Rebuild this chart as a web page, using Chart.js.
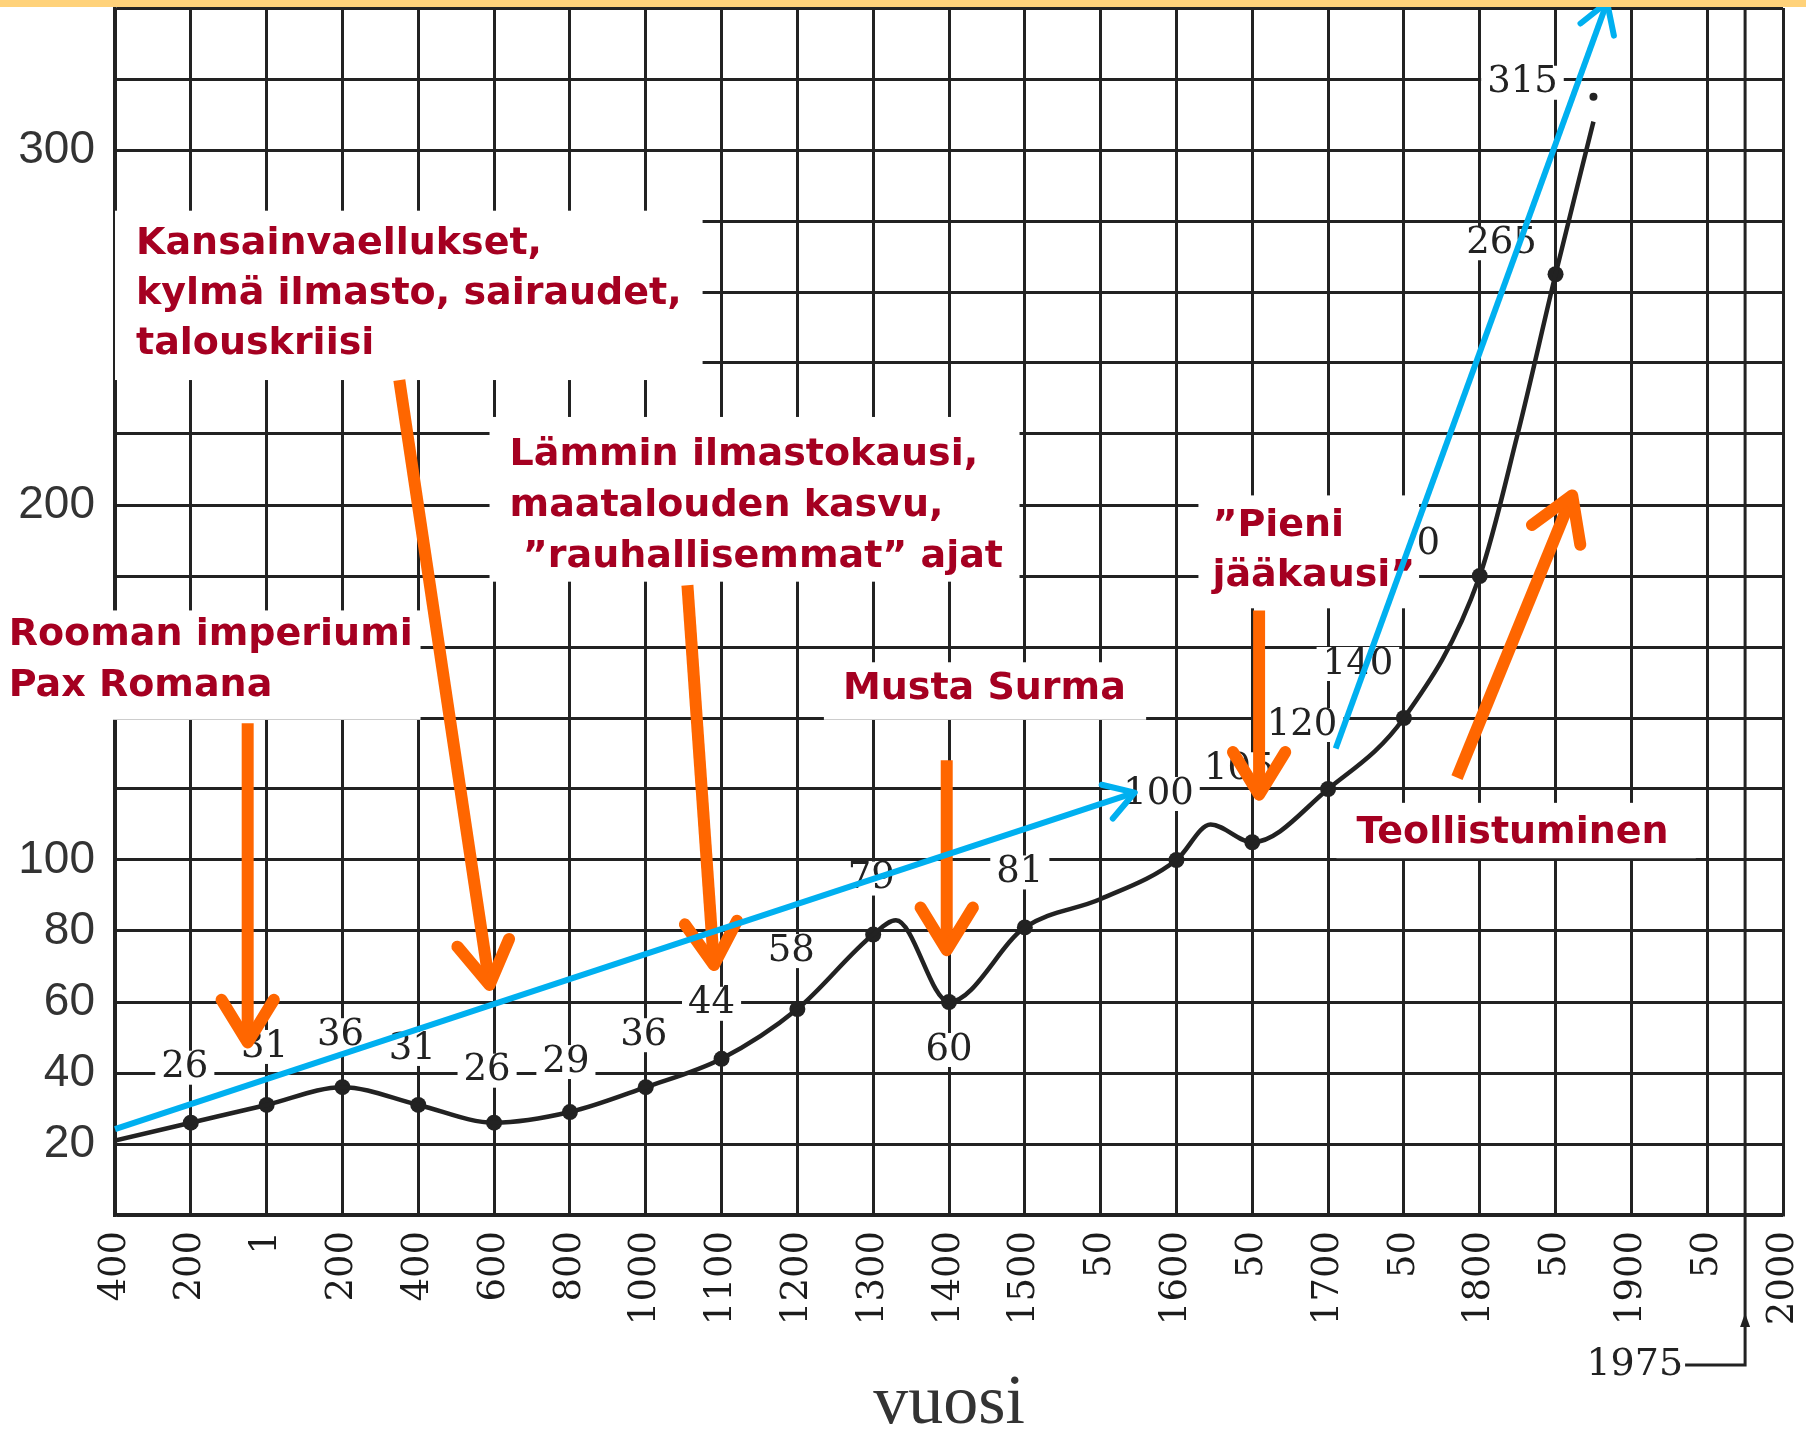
<!DOCTYPE html>
<html>
<head>
<meta charset="utf-8" />
<title>Euroopan väestö</title>
<script src="https://cdn.jsdelivr.net/npm/chart.js"></script>
<style>
  html, body { margin: 0; padding: 0; background: #fff; }
  #wrap { width: 1806px; height: 1432px; }
</style>
</head>
<body>
<div id="wrap"><canvas id="chart" width="1806" height="1432"></canvas></div>
<script>
// x-akseli on tasavälinen: jokainen askel on oma vuosiluku
const tickLabels = ['400','200','1','200','400','600','800','1000','1100','1200','1300','1400','1500','50','1600','50','1700','50','1800','50','1900','50','2000'];
const yLabels = [20, 40, 60, 80, 100, 200, 300];

// käyrän muoto (x = askel asteikolla, y = milj.)
const curveX = [0, 1, 2, 3, 4, 5, 6, 7, 8, 9, 10, 10.3, 11, 12, 13, 14, 14.45, 15, 16, 17, 18, 18.5, 19, 19.5];
const curveY = [21, 26, 31, 36, 31, 26, 29, 36, 44, 58, 79, 83, 60, 81, 89, 100, 110, 105, 120, 140, 180, 220, 265, 308];

// merkityt pisteet ja luvut
const dotX = [1, 2, 3, 4, 5, 6, 7, 8, 9, 10, 11, 12, 14, 15, 16, 17, 18, 19, 19.5];
const dotY = [26, 31, 36, 31, 26, 29, 36, 44, 58, 79, 60, 81, 100, 105, 120, 140, 180, 265, 315];

// lukujen paikka pisteeseen nähden (px)
const labelShift = [[-6,-55],[-2,-58],[-2,-52],[-6,-56],[-7,-52],[-4,-50],[-2,-52],[-10,-55],[-6,-58],[-2,-56],
                    [0,48],[-5,-55],[-18,-66],[-13,-73],[-26,-64],[-46,-54],[-75,-32],[-54,-31],[-71,-14]];

const DARKRED = '#a50021';
const ORANGE = '#ff6600';
const BLUE = '#00b0f0';
const INK = '#222222';

const notes = [
  { lines: ['Kansainvaellukset,', 'kylmä ilmasto, sairaudet,', 'talouskriisi'], box: [0, 282.9, 7.75, 235.2], inset: 21, first: 33, step: 50 },
  { lines: ['Lämmin ilmastokausi,', 'maatalouden kasvu,', ' ”rauhallisemmat” ajat'], box: [4.94, 224.8, 11.93, 178.4], inset: 20, first: 38, step: 51 },
  { lines: ['Rooman imperiumi', 'Pax Romana'], box: [-1.52, 170.3, 4.03, 139.5], inset: 9, first: 25, step: 51 },
  { lines: ['Musta Surma'], box: [9.35, 155.7, 13.6, 139.5], inset: 19, first: 27, step: 50 },
  { lines: ['”Pieni', 'jääkausi”'], box: [14.29, 202.7, 17.2, 170.9], inset: 14, first: 31, step: 50 },
  { lines: ['Teollistuminen'], box: [16.11, 116.1, 20.85, 100.5], inset: 20, first: 30, step: 50 }
];

// nuolet [x0, y0, x1, y1] akselien yksiköissä
const orangeArrows = [
  [1.75, 138.5, 1.75, 48.6],
  [3.75, 235.2, 4.94, 64.8],
  [7.55, 177.4, 7.90, 70.4],
  [10.97, 128.1, 10.97, 74.6],
  [15.09, 170.3, 15.09, 118.4],
  [17.7, 123.2, 19.22, 202.7]
];
const blueArrows = [
  [0, 24.2, 13.45, 119.0],
  [16.1, 131.4, 19.68, 341.6]
];

function arrow(ctx, x0, y0, x1, y1, color, width, head) {
  const a = Math.atan2(y1 - y0, x1 - x0);
  ctx.save();
  ctx.strokeStyle = color;
  ctx.lineWidth = width;
  ctx.lineCap = 'butt';
  ctx.beginPath();
  ctx.moveTo(x0, y0);
  ctx.lineTo(x1 - Math.cos(a) * width * 0.4, y1 - Math.sin(a) * width * 0.4);
  ctx.stroke();
  ctx.lineCap = 'round';
  ctx.lineJoin = 'round';
  ctx.beginPath();
  ctx.moveTo(x1 - head * Math.cos(a - 0.55), y1 - head * Math.sin(a - 0.55));
  ctx.lineTo(x1, y1);
  ctx.lineTo(x1 - head * Math.cos(a + 0.55), y1 - head * Math.sin(a + 0.55));
  ctx.stroke();
  ctx.restore();
}

const overlay = {
  id: 'overlay',
  afterDraw(chart) {
    const ctx = chart.ctx;
    const sx = chart.scales.x, sy = chart.scales.y;
    const X = v => sx.getPixelForValue(v), Y = v => sy.getPixelForValue(v);
    const area = chart.chartArea;

    // 1975-merkintä
    ctx.save();
    ctx.strokeStyle = INK;
    ctx.lineWidth = 3;
    const x75 = X(21.5);
    ctx.beginPath();
    ctx.moveTo(x75, area.top);
    ctx.lineTo(x75, area.bottom + 150);
    ctx.lineTo(x75 - 60, area.bottom + 150);
    ctx.stroke();
    ctx.fillStyle = INK;
    ctx.beginPath();
    ctx.moveTo(x75, area.bottom + 98);
    ctx.lineTo(x75 - 5, area.bottom + 112);
    ctx.lineTo(x75 + 5, area.bottom + 112);
    ctx.closePath();
    ctx.fill();
    ctx.font = '38px "DejaVu Serif"';
    ctx.textAlign = 'right';
    ctx.textBaseline = 'middle';
    ctx.fillText('1975', x75 - 62, area.bottom + 150);

    // akselin nimi
    ctx.font = '70px "Liberation Serif"';
    ctx.textAlign = 'center';
    ctx.textBaseline = 'alphabetic';
    ctx.fillStyle = '#333';
    ctx.fillText('vuosi', (area.left + area.right) / 2, area.bottom + 208);
    ctx.restore();

    // luvut pisteiden vieressä
    ctx.save();
    ctx.font = '37px "DejaVu Serif"';
    ctx.textAlign = 'center';
    ctx.textBaseline = 'middle';
    dotY.forEach((v, k) => {
      const cx = X(dotX[k]) + labelShift[k][0];
      const cy = Y(v) + labelShift[k][1];
      const w = ctx.measureText(String(v)).width;
      ctx.fillStyle = '#fff';
      ctx.fillRect(cx - w / 2 - 6, cy - 17, w + 12, 34);
      ctx.fillStyle = INK;
      ctx.fillText(String(v), cx, cy);
    });
    ctx.restore();

    // tekstilaatikot
    ctx.save();
    ctx.font = 'bold 38px "DejaVu Sans"';
    ctx.textBaseline = 'middle';
    ctx.textAlign = 'left';
    notes.forEach(n => {
      const l = X(n.box[0]), t = Y(n.box[1]), r = X(n.box[2]), b = Y(n.box[3]);
      ctx.fillStyle = '#fff';
      ctx.fillRect(l, t, r - l, b - t);
      ctx.fillStyle = DARKRED;
      n.lines.forEach((s, k) => ctx.fillText(s, l + n.inset, t + n.first + k * n.step));
    });
    ctx.restore();

    orangeArrows.forEach(a => arrow(ctx, X(a[0]), Y(a[1]), X(a[2]), Y(a[3]), ORANGE, 12, 50));
    blueArrows.forEach(a => arrow(ctx, X(a[0]), Y(a[1]), X(a[2]), Y(a[3]), BLUE, 6, 34));

    // keltainen reuna ylhäällä
    ctx.save();
    ctx.fillStyle = '#ffd27a';
    ctx.fillRect(0, 0, chart.width, 7);
    ctx.restore();
  }
};

const ctx = document.getElementById('chart').getContext('2d');
new Chart(ctx, {
  type: 'line',
  data: {
    datasets: [
      {
        data: curveX.map((x, i) => ({ x: x, y: curveY[i] })),
        borderColor: INK,
        borderWidth: 4.5,
        pointRadius: 0,
        cubicInterpolationMode: 'monotone',
        fill: false
      },
      {
        data: dotX.map((x, i) => ({ x: x, y: dotY[i] })),
        showLine: false,
        pointRadius: dotX.map((x, i) => i === dotX.length - 1 ? 4 : 8),
        pointBackgroundColor: INK,
        pointBorderWidth: 0
      }
    ]
  },
  options: {
    responsive: false,
    animation: false,
    layout: { padding: { top: 8, right: 23, left: 0, bottom: 0 } },
    plugins: { legend: { display: false }, tooltip: { enabled: false } },
    scales: {
      x: {
        type: 'linear',
        min: 0,
        max: 22,
        afterBuildTicks: s => { s.ticks = tickLabels.map((t, i) => ({ value: i })); },
        afterFit: s => { s.height = 217; s.paddingLeft = 0; s.paddingRight = 0; },
        ticks: {
          callback: v => tickLabels[v],
          minRotation: 90,
          maxRotation: 90,
          autoSkip: false,
          padding: 16,
          color: '#1c1c1c',
          font: { family: '"DejaVu Serif"', size: 37 }
        },
        grid: { color: INK, lineWidth: 3, drawTicks: false },
        border: { color: INK, width: 3.5 }
      },
      y: {
        min: 0,
        max: 340,
        afterFit: s => { s.width = 115; s.paddingTop = 0; s.paddingBottom = 0; },
        ticks: {
          stepSize: 20,
          callback: v => yLabels.includes(v) ? String(v) : '',
          padding: 20,
          color: '#333',
          font: { family: '"Liberation Sans"', size: 46 }
        },
        grid: { color: INK, lineWidth: 3, drawTicks: false },
        border: { color: INK, width: 3.5 }
      }
    }
  },
  plugins: [overlay]
});
</script>
</body>
</html>
